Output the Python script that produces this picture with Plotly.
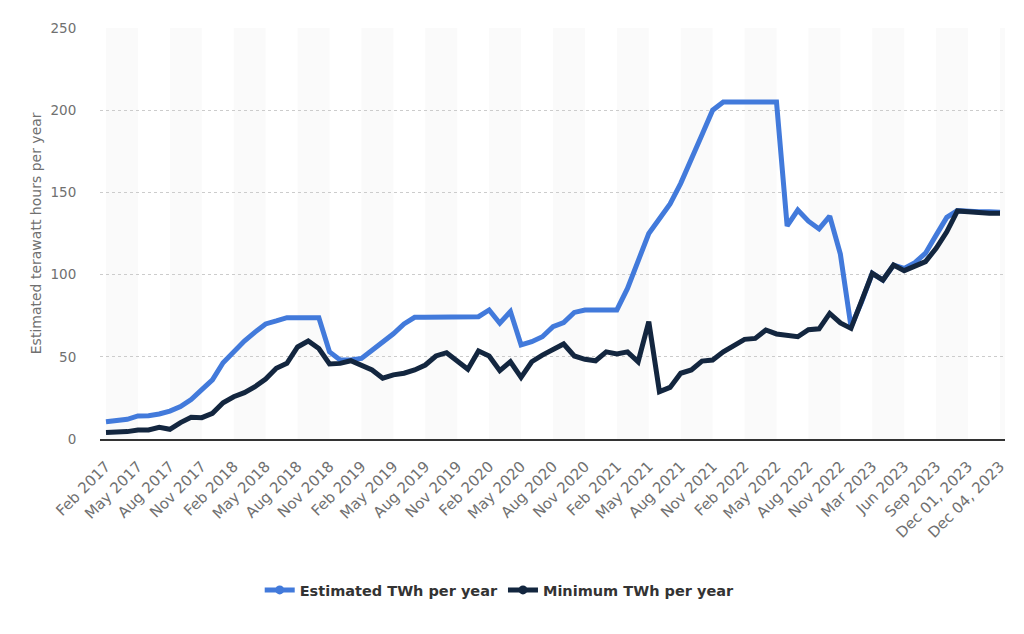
import plotly.graph_objects as go

categories = [
    "Feb 2017", "Mar 2017", "Apr 2017", "May 2017", "Jun 2017", "Jul 2017", "Aug 2017", "Sep 2017", "Oct 2017", "Nov 2017", "Dec 2017",
    "Jan 2018", "Feb 2018", "Mar 2018", "Apr 2018", "May 2018", "Jun 2018", "Jul 2018", "Aug 2018", "Sep 2018", "Oct 2018", "Nov 2018", "Dec 2018",
    "Jan 2019", "Feb 2019", "Mar 2019", "Apr 2019", "May 2019", "Jun 2019", "Jul 2019", "Aug 2019", "Sep 2019", "Oct 2019", "Nov 2019", "Dec 2019",
    "Jan 2020", "Feb 2020", "Mar 2020", "Apr 2020", "May 2020", "Jun 2020", "Jul 2020", "Aug 2020", "Sep 2020", "Oct 2020", "Nov 2020", "Dec 2020",
    "Jan 2021", "Feb 2021", "Mar 2021", "Apr 2021", "May 2021", "Jun 2021", "Jul 2021", "Aug 2021", "Sep 2021", "Oct 2021", "Nov 2021", "Dec 2021",
    "Jan 2022", "Feb 2022", "Mar 2022", "Apr 2022", "May 2022", "Jun 2022", "Jul 2022", "Aug 2022", "Sep 2022", "Oct 2022", "Nov 2022", "Dec 2022",
    "Jan 2023", "Mar 2023", "Apr 2023", "May 2023", "Jun 2023", "Jul 2023", "Aug 2023", "Sep 2023", "Oct 2023", "Nov 2023",
    "Dec 01, 2023", "Dec 02, 2023", "Dec 03, 2023", "Dec 04, 2023",
]

estimated = [
    10.5, 11, 12, 14, 14.2, 15.2, 17, 19.7, 24, 30, 36,
    46.4, 53, 59.6, 65, 70, 71.8, 73.8, 73.8, 73.8, 73.8, 53, 48,
    48, 49, 54, 59, 64, 70, 74, 74, 74, 74, 74, 74,
    74.4, 78.5, 70.4, 77.5, 57.2, 59.2, 62.2, 68.3, 70.8, 77, 78.5, 78.5,
    78.5, 78.5, 91.6, 108.9, 125, 134, 143, 155.5, 169.7, 185, 200, 205,
    205, 205, 205, 205, 205, 129.6, 139.3, 132.5, 127.8, 135.6, 112.5, 68.3,
    83.5, 100.8, 96.7, 105.8, 103.8, 107.3, 113, 124, 134.8, 138.9,
    138.3, 138.3, 138.3, 138,
]

minimum = [
    3.9, 3.9, 4.5, 5.5, 5.5, 7.1, 5.9, 10, 13.2, 13, 15.6,
    22, 25.7, 28.2, 31.8, 36.5, 43, 46, 56, 59.6, 55, 45.6, 46,
    47.6, 45, 42, 37, 39, 40, 42, 45, 50.5, 52.5, 47, 42.4,
    53.5, 50.5, 41.6, 47, 37.5, 47, 51, 54, 57.8, 50.5, 48.5, 47.6,
    53, 51.7, 53, 47, 71.4, 28.8, 31.4, 40, 42, 47.4, 48, 53,
    57, 60.6, 61.2, 66.3, 63.9, 62.7, 62.2, 66.5, 67, 76.4, 70.6, 67.3,
    83.5, 100.8, 96.7, 105.8, 102.4, 104.8, 107.9, 116, 126, 138.7,
    138, 137.7, 137.3, 137.3,
]

tick_labels = categories[::3]
y_ticks = [0, 50, 100, 150, 200, 250]

BLUE = "#427adb"
NAVY = "#13263f"
FONT = "DejaVu Sans"
GRAY = "#707070"

fig = go.Figure()

# alternating vertical bands (every 3 categories)
n = len(categories)
for k in range(0, n, 6):
    fig.add_shape(type="rect", xref="x", yref="paper", x0=k, x1=k + 3, y0=0, y1=1,
                  fillcolor="#fafafa", line_width=0, layer="below")

fig.add_trace(go.Scatter(x=categories, y=estimated, mode="lines", name="Estimated TWh per year",
                         line=dict(color=BLUE, width=5), showlegend=False))
fig.add_trace(go.Scatter(x=categories, y=minimum, mode="lines", name="Minimum TWh per year",
                         line=dict(color=NAVY, width=5), showlegend=False))
# legend entries
fig.add_trace(go.Scatter(x=[None], y=[None], mode="lines+markers", name="Estimated TWh per year",
                         line=dict(color=BLUE, width=5), marker=dict(size=9, color=BLUE)))
fig.add_trace(go.Scatter(x=[None], y=[None], mode="lines+markers", name="Minimum TWh per year",
                         line=dict(color=NAVY, width=5), marker=dict(size=9, color=NAVY)))

fig.update_layout(
    width=1024, height=634,
    margin=dict(l=100, r=19, t=28, b=195),
    paper_bgcolor="white", plot_bgcolor="white",
    font=dict(family=FONT, color=GRAY),
    xaxis=dict(
        type="category", categoryorder="array", categoryarray=categories,
        range=[-0.564, 84.47],
        tickmode="array", tickvals=tick_labels, ticktext=tick_labels,
        tickangle=-45, tickfont=dict(size=15, color=GRAY, family=FONT),
        showgrid=False, showline=True, linecolor="#333333", linewidth=1.5,
        ticks="outside", ticklen=11, tickcolor="rgba(0,0,0,0)",
        zeroline=False,
    ),
    yaxis=dict(
        range=[0, 250], tickvals=y_ticks,
        tickfont=dict(size=13.5, color=GRAY, family=FONT),
        showgrid=True, gridcolor="#cccccc", griddash="dot", gridwidth=1,
        zeroline=False, showline=False,
        ticks="outside", ticklen=20, tickcolor="rgba(0,0,0,0)",
    ),
    legend=dict(orientation="h", xref="container", x=0.488, xanchor="center",
                yref="container", y=1 - 590 / 634, yanchor="middle",
                font=dict(size=14.5, color="#333333", family=FONT, weight="bold"),
                itemwidth=30, bgcolor="rgba(0,0,0,0)"),
    annotations=[dict(text="Estimated terawatt hours per year", xref="paper", yref="paper",
                      x=-0.071, y=0.5, xanchor="center", yanchor="middle", textangle=-90,
                      showarrow=False, font=dict(size=14, color=GRAY, family=FONT))],
)

fig.write_html("out.html")
